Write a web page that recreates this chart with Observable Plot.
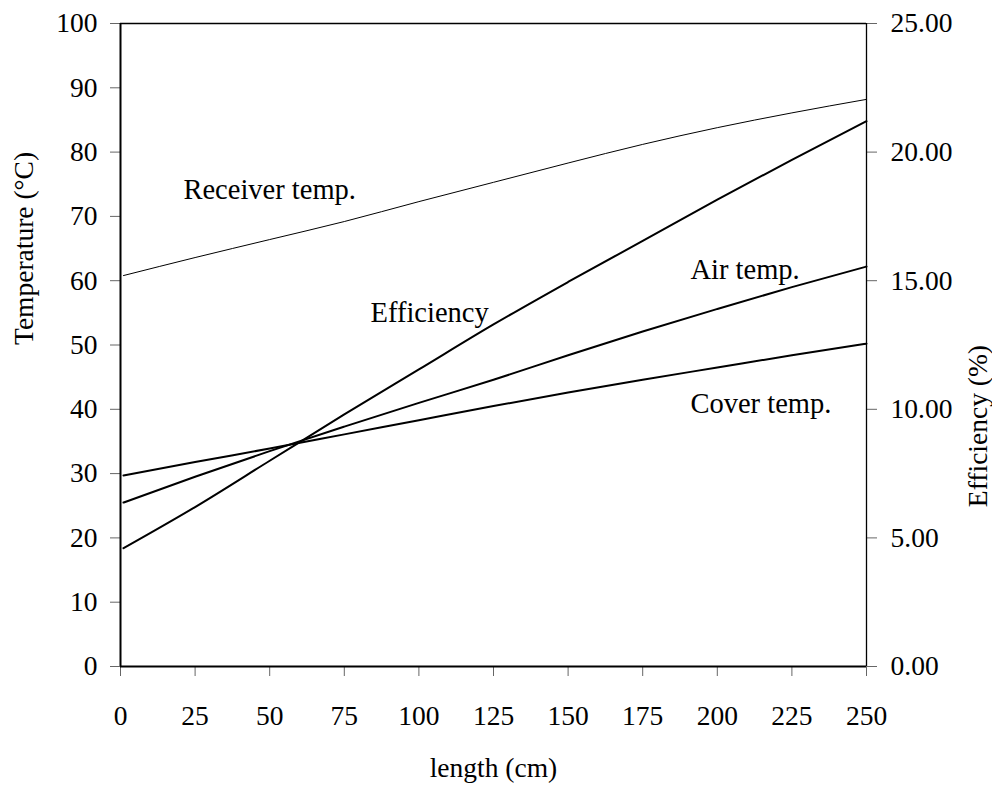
<!DOCTYPE html>
<html>
<head>
<meta charset="utf-8">
<script src="https://cdn.jsdelivr.net/npm/d3@7"></script>
<script src="https://cdn.jsdelivr.net/npm/@observablehq/plot@0.6"></script>
<style>
  body { margin: 0; background: #fff; }
  #chart svg { display: block; }
</style>
</head>
<body>
<div id="chart"></div>
<script>
// length along collector (cm)
const lengths = [1, 25, 50, 75, 100, 125, 150, 175, 200, 225, 250];
// temperatures (°C)
const receiverTemp = [60.8, 63.6, 66.4, 69.2, 72.3, 75.3, 78.3, 81.2, 83.8, 86.1, 88.2];
const airTemp      = [25.5, 29.5, 33.5, 37.3, 41.0, 44.6, 48.4, 52.1, 55.6, 59.0, 62.2];
const coverTemp    = [29.7, 31.8, 33.9, 36.1, 38.3, 40.5, 42.6, 44.6, 46.5, 48.4, 50.2];
// efficiency (%)
const efficiency   = [4.6, 6.2, 8.0, 9.8, 11.55, 13.3, 14.95, 16.55, 18.15, 19.7, 21.2];

const xTicks = [0, 25, 50, 75, 100, 125, 150, 175, 200, 225, 250];
const tempTicks = [0, 10, 20, 30, 40, 50, 60, 70, 80, 90, 100];
const effTicks = [0, 5, 10, 15, 20, 25];
const effScale = 4; // 25 % on the right axis = 100 °C on the left

const seriesLabels = [
  {text: "Receiver temp.", x: 21.1, y: 74.1},
  {text: "Efficiency", x: 83.8, y: 55.0},
  {text: "Air temp.", x: 191, y: 61.7},
  {text: "Cover temp.", x: 191, y: 40.8}
];

const rows = (ys) => lengths.map((x, i) => ({x, y: ys[i]}));

const font = "'Liberation Serif', 'Times New Roman', serif";

const chart = Plot.plot({
  width: 992,
  height: 787,
  marginLeft: 120,
  marginRight: 126,
  marginTop: 23,
  marginBottom: 121,
  style: {fontSize: "27.5px", color: "#000", background: "#fff"},
  x: {domain: [0, 250]},
  y: {domain: [0, 100]},
  marks: [
    Plot.axisX({ticks: xTicks, tickSize: 10, tickPadding: 29, stroke: "#666", label: null, tickFormat: d => String(d)}),
    Plot.axisY({anchor: "left", ticks: tempTicks, tickSize: 10, tickPadding: 13, stroke: "#666", label: null, tickFormat: d => String(d)}),
    Plot.axisY({anchor: "right", ticks: effTicks.map(d => d * effScale), tickSize: 10, tickPadding: 14, stroke: "#666", label: null, tickFormat: d => (d / effScale).toFixed(2)}),
    // frame
    Plot.ruleX([0], {stroke: "#000", strokeWidth: 2}),
    Plot.ruleX([250], {stroke: "#000", strokeWidth: 1.3}),
    Plot.ruleY([0], {stroke: "#000", strokeWidth: 2}),
    Plot.ruleY([100], {stroke: "#000", strokeWidth: 1.5}),
    // series
    Plot.line(rows(receiverTemp), {x: "x", y: "y", stroke: "#000", strokeWidth: 1, curve: "monotone-x"}),
    Plot.line(rows(airTemp), {x: "x", y: "y", stroke: "#000", strokeWidth: 2, curve: "monotone-x"}),
    Plot.line(rows(coverTemp), {x: "x", y: "y", stroke: "#000", strokeWidth: 2, curve: "monotone-x"}),
    Plot.line(rows(efficiency.map(e => e * effScale)), {x: "x", y: "y", stroke: "#000", strokeWidth: 2, curve: "monotone-x"}),
    // series labels
    Plot.text(seriesLabels, {x: "x", y: "y", text: "text", textAnchor: "start", lineAnchor: "middle", fontSize: 28.5, fill: "#000"}),
    // axis titles
    Plot.text(["length (cm)"], {frameAnchor: "bottom", dy: 102, lineAnchor: "middle", fontSize: 27.5, fill: "#000"}),
    Plot.text(["Temperature (°C)"], {frameAnchor: "left", dx: -96, rotate: -90, lineAnchor: "middle", fontSize: 27.5, fill: "#000"}),
    Plot.text(["Efficiency (%)"], {frameAnchor: "right", dx: 112, rotate: -90, lineAnchor: "middle", fontSize: 27.5, fill: "#000"})
  ]
});

chart.setAttribute("font-family", font);
chart.style.setProperty("font-family", font, "important");
chart.querySelectorAll("g, text").forEach(el => {
  el.removeAttribute("font-family");
  el.style.setProperty("font-family", font, "important");
});

document.getElementById("chart").appendChild(chart);
</script>
</body>
</html>
